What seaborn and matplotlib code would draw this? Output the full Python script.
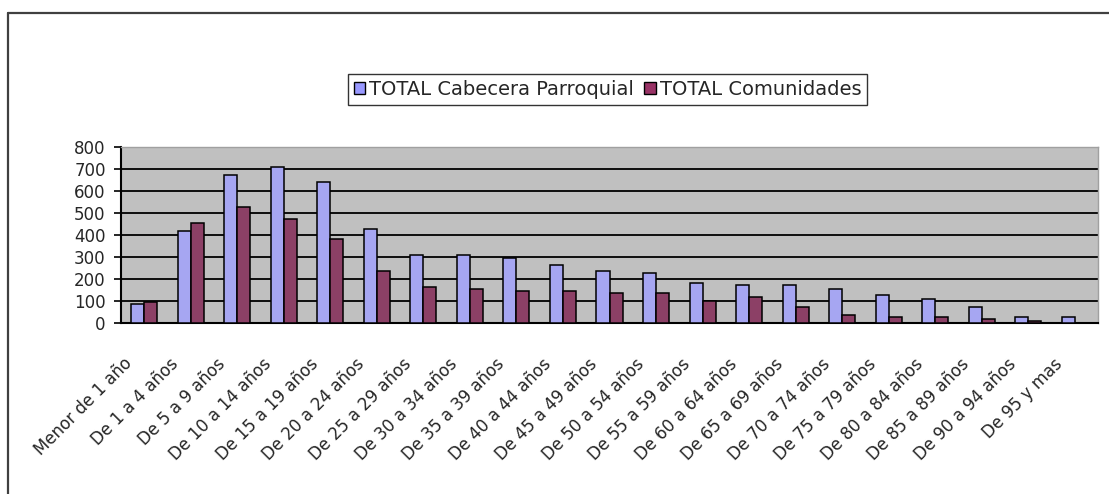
import matplotlib
matplotlib.use("Agg")
import matplotlib.pyplot as plt
import matplotlib.transforms as mtransforms
from matplotlib.patches import Patch
from matplotlib.lines import Line2D
import seaborn as sns
import pandas as pd
import numpy as np

categories = ["Menor de 1 año", "De 1 a 4 años", "De 5 a 9 años", "De 10 a 14 años",
              "De 15 a 19 años", "De 20 a 24 años", "De 25 a 29 años", "De 30 a 34 años",
              "De 35 a 39 años", "De 40 a 44 años", "De 45 a 49 años", "De 50 a 54 años",
              "De 55 a 59 años", "De 60 a 64 años", "De 65 a 69 años", "De 70 a 74 años",
              "De 75 a 79 años", "De 80 a 84 años", "De 85 a 89 años", "De 90 a 94 años",
              "De 95 y mas"]
cabecera = [85, 418, 672, 707, 643, 426, 310, 310, 295, 263, 236, 227,
            181, 172, 172, 154, 127, 107, 71, 29, 29]
comunidades = [95, 453, 526, 473, 382, 237, 165, 154, 145, 145, 136, 136,
               98, 119, 73, 38, 29, 29, 18, 11, 0]
series_names = ["TOTAL Cabecera Parroquial", "TOTAL Comunidades"]
colors = ["#9999FF", "#993366"]
yticks = [0, 100, 200, 300, 400, 500, 600, 700, 800]

df = pd.DataFrame({
    "cat": categories * 2,
    "val": cabecera + comunidades,
    "serie": [series_names[0]] * len(categories) + [series_names[1]] * len(categories),
})

sns.set_style("white")
plt.rcParams["font.family"] = ["DejaVu Sans"]

W, H = 1109, 494
fig = plt.figure(figsize=(W / 100, H / 100), dpi=100)
L, R, T, B = 121, 1098, 147, 323
ax = fig.add_axes([L / W, 1 - B / H, (R - L) / W, (B - T) / H])
ax.set_facecolor("#C0C0C0")

sns.barplot(data=df, x="cat", y="val", hue="serie", order=categories,
            hue_order=series_names, palette=colors, width=0.56, gap=0,
            edgecolor="black", linewidth=1.1, ax=ax, legend=False, zorder=3)

n = len(categories)
ax.set_xlim(-0.5, n - 0.5)
ax.set_ylim(0, 800)
ax.set_yticks(yticks)
ax.set_yticklabels([str(v) for v in yticks], fontsize=12)
for v in yticks[1:-1]:
    ax.axhline(v, color="black", linewidth=1.3, zorder=1)

ax.set_xlabel("")
ax.set_ylabel("")
ax.set_xticks(range(n))
ax.set_xticks(np.arange(-0.5, n, 1.0), minor=True)
ax.set_xticklabels(categories, fontsize=12, rotation=45, ha="right", va="center",
                   rotation_mode="anchor")
ax.tick_params(axis="x", which="major", length=0, pad=0)
ax.tick_params(axis="x", which="minor", length=5, width=1.2, color="black", direction="out")
ax.tick_params(axis="y", which="major", length=5, width=1.2, color="black",
               direction="out", pad=6, left=True)
off = mtransforms.ScaledTranslation(-0.15, -0.38, fig.dpi_scale_trans)
for lab in ax.get_xticklabels():
    lab.set_transform(lab.get_transform() + off)

for s in ["left", "bottom"]:
    ax.spines[s].set_color("black")
    ax.spines[s].set_linewidth(1.5)
for s in ["top", "right"]:
    ax.spines[s].set_color("#A0A0A0")
    ax.spines[s].set_linewidth(1.0)

handles = [Patch(facecolor=c, edgecolor="black", linewidth=1.0) for c in colors]
leg = fig.legend(handles, series_names, loc="center", ncol=2,
                 bbox_to_anchor=((347 + 868) / 2 / W, 1 - 89.5 / H),
                 frameon=True, fancybox=False, edgecolor="black", fontsize=14,
                 handlelength=0.6, handleheight=0.6, handletextpad=0.2,
                 columnspacing=0.5, borderpad=0.3, borderaxespad=0)
leg.get_frame().set_linewidth(1.0)

# outer chart border (left and top edges visible)
fig.add_artist(Line2D([8 / W, 8 / W], [0, 1 - 13 / H], transform=fig.transFigure,
                      color="#404040", linewidth=1.6))
fig.add_artist(Line2D([8 / W, 1], [1 - 13 / H, 1 - 13 / H], transform=fig.transFigure,
                      color="#404040", linewidth=1.6))

fig.savefig("out.png", dpi=100)
